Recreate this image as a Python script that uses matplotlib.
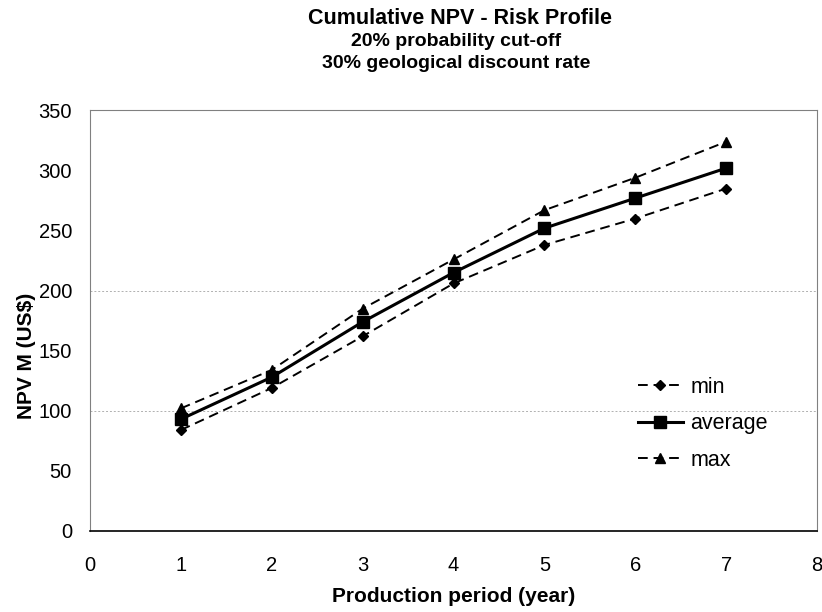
import matplotlib
matplotlib.use("Agg")
import matplotlib.pyplot as plt

# ── Data ────────────────────────────────────────────────────────────────────
years = [1, 2, 3, 4, 5, 6, 7]
npv_min = [84, 119, 162, 206, 238, 260, 285]
npv_avg = [93, 128, 174, 215, 252, 277, 302]
npv_max = [102, 134, 185, 226, 267, 294, 324]

FONT = ["Liberation Sans", "DejaVu Sans"]
plt.rcParams["font.family"] = FONT

fig = plt.figure(figsize=(8.22, 6.12), dpi=100)
ax = fig.add_axes([0.1095, 0.1325, 0.8845, 0.687])

# gridlines (only faint ones at 100 and 200 visible in the source)
for g in (100, 200):
    ax.axhline(g, color="#b0b0b0", linewidth=0.7, linestyle=(0, (2, 2)), zorder=0)

ax.plot(years, npv_min, color="black", linestyle=(0, (5, 3)), linewidth=1.4,
        marker="D", markersize=5, label="min")
ax.plot(years, npv_avg, color="black", linestyle="-", linewidth=2.2,
        marker="s", markersize=8.5, label="average")
ax.plot(years, npv_max, color="black", linestyle=(0, (5, 3)), linewidth=1.4,
        marker="^", markersize=7.5, label="max")

ax.set_xlim(0, 8)
ax.set_ylim(0, 350)
ax.set_xticks(range(0, 9))
ax.set_yticks(range(0, 351, 50))
ax.tick_params(length=0, labelsize=14.5)
ax.tick_params(axis="x", pad=18)
ax.tick_params(axis="y", pad=13)

for side in ("left", "top", "right"):
    ax.spines[side].set_color("#808080")
    ax.spines[side].set_linewidth(0.8)
ax.spines["bottom"].set_color("black")
ax.spines["bottom"].set_linewidth(1.2)

ax.set_xlabel("Production period (year)", fontsize=15, fontweight="bold", labelpad=9)
ax.set_ylabel("NPV M (US$)", fontsize=15, fontweight="bold")
ax.yaxis.set_label_coords(-0.074, 0.416)

ax.legend(loc="upper left", bbox_to_anchor=(0.776, 0.384),
          bbox_transform=fig.transFigure, frameon=False, borderpad=0,
          borderaxespad=0, fontsize=15.5, handlelength=2.1,
          labelspacing=0.72, handletextpad=0.33)

fig.text(0.560, 0.970, "Cumulative NPV - Risk Profile", ha="center", va="center",
         fontsize=15.5, fontweight="bold")
fig.text(0.555, 0.933, "20% probability cut-off", ha="center", va="center",
         fontsize=14, fontweight="bold")
fig.text(0.555, 0.896, "30% geological discount rate", ha="center", va="center",
         fontsize=14, fontweight="bold")

fig.savefig("out.png", dpi=100, facecolor="white")
